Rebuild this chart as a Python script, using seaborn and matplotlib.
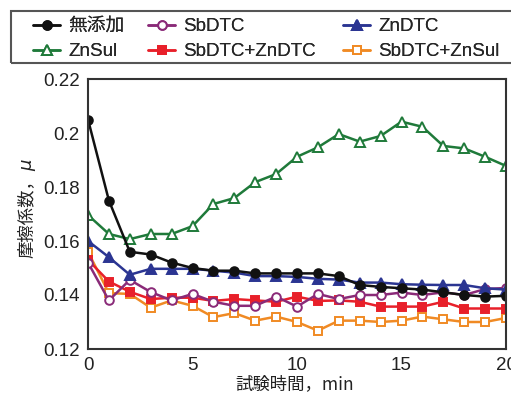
import numpy as np
import pandas as pd
import matplotlib
matplotlib.use("Agg")
import matplotlib.pyplot as plt
import seaborn as sns
from matplotlib.ticker import MultipleLocator
from matplotlib.patches import Rectangle

minutes = list(range(21))
mutenka = [0.205, 0.175, 0.156, 0.155, 0.152, 0.150, 0.149, 0.149, 0.148, 0.148, 0.148,
           0.148, 0.147, 0.1437, 0.143, 0.1425, 0.142, 0.141, 0.140, 0.1394, 0.1397]
sbdtc = [0.152, 0.138, 0.1456, 0.1411, 0.138, 0.1404, 0.1375, 0.136, 0.136, 0.1394, 0.1357,
         0.1404, 0.1385, 0.140, 0.140, 0.1409, 0.140, 0.141, 0.140, 0.1422, 0.1426]
zndtc = [0.160, 0.154, 0.1475, 0.1497, 0.1497, 0.1497, 0.149, 0.1483, 0.147, 0.147, 0.1467,
         0.146, 0.1457, 0.1446, 0.1446, 0.144, 0.1438, 0.1437, 0.1437, 0.1425, 0.142]
znsul = [0.1696, 0.1626, 0.1607, 0.1626, 0.1626, 0.1655, 0.1737, 0.1759, 0.1818, 0.1848, 0.1912,
         0.1947, 0.1996, 0.1968, 0.1989, 0.2042, 0.2023, 0.1952, 0.1943, 0.1912, 0.1878]
sb_zndtc = [0.153, 0.145, 0.1412, 0.1385, 0.139, 0.139, 0.1378, 0.1385, 0.138, 0.1375, 0.1394,
            0.1378, 0.138, 0.1375, 0.1357, 0.1357, 0.1357, 0.1375, 0.135, 0.135, 0.135]
sb_znsul = [0.156, 0.1407, 0.1404, 0.1353, 0.138, 0.136, 0.1318, 0.1333, 0.1305, 0.132, 0.130,
            0.1268, 0.1305, 0.1305, 0.130, 0.1305, 0.132, 0.131, 0.130, 0.130, 0.1315]

labels = ["無添加", "SbDTC", "ZnDTC", "ZnSul", "SbDTC+ZnDTC", "SbDTC+ZnSul"]
x_ticks = [0, 5, 10, 15, 20]
y_ticks = [0.12, 0.14, 0.16, 0.18, 0.20, 0.22]
y_ticklabels = ["0.12", "0.14", "0.16", "0.18", "0.2", "0.22"]

sns.set_theme(style="white")
plt.rcParams['font.family'] = ['Liberation Sans', 'Noto Sans CJK JP', 'DejaVu Sans']

W, H = 511, 404
fig = plt.figure(figsize=(W/100, H/100), dpi=100)
ax = fig.add_axes([88/W, 1-349/H, (506-88)/W, (349-79)/H])

styles = {
    "無添加": dict(color="#111111", marker="o", mfc="#111111", ms=6.2),
    "SbDTC": dict(color="#8a2a78", marker="o", mfc="white", ms=6.2),
    "ZnDTC": dict(color="#2b3592", marker="^", mfc="#2b3592", ms=7),
    "ZnSul": dict(color="#1f7a3a", marker="^", mfc="white", ms=7.2),
    "SbDTC+ZnDTC": dict(color="#e8202a", marker="s", mfc="#e8202a", ms=5.5),
    "SbDTC+ZnSul": dict(color="#f08a24", marker="s", mfc="white", ms=5.5),
}
data = {"無添加": mutenka, "SbDTC": sbdtc, "ZnDTC": zndtc, "ZnSul": znsul,
        "SbDTC+ZnDTC": sb_zndtc, "SbDTC+ZnSul": sb_znsul}
order = ["ZnSul", "SbDTC+ZnSul", "SbDTC+ZnDTC", "SbDTC", "ZnDTC", "無添加"]
handles = {}
for name in order:
    st = styles[name]
    df = pd.DataFrame({"t": minutes, "mu": data[name]})
    sns.lineplot(data=df, x="t", y="mu", ax=ax, color=st["color"], marker=st["marker"],
                 markerfacecolor=st["mfc"], markeredgecolor=st["color"], markersize=st["ms"],
                 markeredgewidth=1.4, linewidth=1.8)
    handles[name] = ax.get_lines()[-1]

ax.set_xlim(0, 20)
ax.set_ylim(0.12, 0.22)
ax.set_xticks(x_ticks)
ax.set_yticks(y_ticks)
ax.set_yticklabels(y_ticklabels)
ax.xaxis.set_minor_locator(MultipleLocator(2.5))
ax.yaxis.set_minor_locator(MultipleLocator(0.01))
ax.tick_params(which="both", direction="in", colors="#444444", labelcolor="#222222",
               labelsize=13.5, width=1)
ax.tick_params(which="major", length=5)
ax.tick_params(which="minor", length=3)
ax.tick_params(axis="y", pad=6)
ax.tick_params(axis="x", pad=6)
for s in ax.spines.values():
    s.set_color("#333333")
    s.set_linewidth(1.5)
ax.set_xlabel("")
ax.set_ylabel("")

cjk = ['Noto Sans CJK JP', 'DejaVu Sans']
fig.text(295/W, 1-384/H, "試験時間，min", ha="center", va="center", fontsize=12.5,
         family=cjk, color="#222222")
fig.text(27/W, 1-258/H, "摩擦係数，", rotation=90, ha="center", va="bottom",
         fontsize=12.5, family=cjk, color="#222222")
fig.text(27/W, 1-171/H, "μ", rotation=90, ha="center", va="bottom",
         fontsize=13, family=['DejaVu Sans'], style="italic", color="#222222")

cols = [(["無添加", "ZnSul"], 33), (["SbDTC", "SbDTC+ZnDTC"], 148), (["ZnDTC", "SbDTC+ZnSul"], 343)]
for names, xpx in cols:
    lg = fig.legend([handles[n] for n in names], names, loc="upper left",
                    bbox_to_anchor=(xpx/W, 1-18/H), ncol=1, fontsize=13.5, frameon=False,
                    handlelength=1.44, handletextpad=0.45, borderpad=0, labelspacing=0.42,
                    borderaxespad=0)
    fig.add_artist(lg)
fig.add_artist(Rectangle((11/W, 1-63/H), 505/W, 52/H, transform=fig.transFigure,
                         fill=False, edgecolor="#555555", linewidth=1.5))

fig.savefig("out.png", dpi=100)
